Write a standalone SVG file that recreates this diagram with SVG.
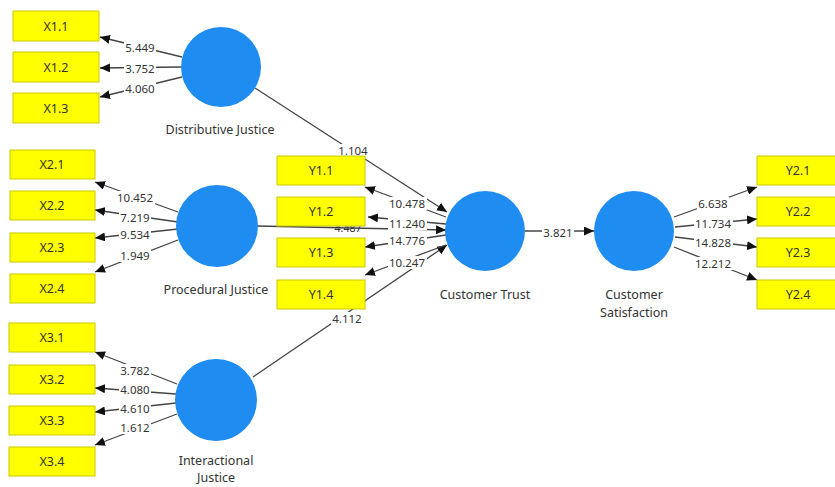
<svg xmlns="http://www.w3.org/2000/svg" width="835" height="487" viewBox="0 0 835 487">
<defs>
<marker id="ah" markerUnits="userSpaceOnUse" markerWidth="11" markerHeight="9" refX="10" refY="4.5" orient="auto">
<path d="M0,0 L10,4.5 L0,9 z" fill="#111"/>
</marker>
<style>
.box{fill:#ffff00;stroke:#c8c800;stroke-width:1}
.bt{font-family:"Noto Sans","Liberation Sans",sans-serif;font-size:12.5px;fill:#333;text-anchor:middle;dominant-baseline:central}
.lv{fill:#1e8cf0}
.lt{font-family:"Noto Sans","Liberation Sans",sans-serif;font-size:12.5px;fill:#333;text-anchor:middle}
.c{stroke:#444;stroke-width:1.3;fill:none;marker-end:url(#ah)}
.n{font-family:"Noto Sans","Liberation Sans",sans-serif;font-size:11.5px;fill:#333;text-anchor:middle;dominant-baseline:central}
.bg{fill:#fff}
</style>
</defs>
<rect width="835" height="487" fill="#fff"/>
<g id="connectors">
<line class="c" x1="182" y1="57" x2="100" y2="37"/>
<line class="c" x1="181" y1="67" x2="100" y2="68"/>
<line class="c" x1="182" y1="77" x2="100" y2="97"/>
<line class="c" x1="178" y1="212" x2="95" y2="182"/>
<line class="c" x1="178" y1="222" x2="95" y2="210"/>
<line class="c" x1="178" y1="229" x2="95" y2="238"/>
<line class="c" x1="178" y1="240" x2="95" y2="272"/>
<line class="c" x1="177" y1="384" x2="95" y2="352"/>
<line class="c" x1="176" y1="394" x2="95" y2="388"/>
<line class="c" x1="176" y1="403" x2="95" y2="412"/>
<line class="c" x1="177" y1="414" x2="95" y2="445"/>
<line class="c" x1="255" y1="88" x2="447" y2="212"/>
<line class="c" x1="257" y1="226" x2="446" y2="230"/>
<line class="c" x1="253" y1="377" x2="447" y2="245"/>
<line class="c" x1="446" y1="217" x2="365" y2="187"/>
<line class="c" x1="446" y1="224" x2="368" y2="217"/>
<line class="c" x1="446" y1="235" x2="365" y2="247"/>
<line class="c" x1="446" y1="245" x2="365" y2="275"/>
<line class="c" x1="525" y1="231" x2="594" y2="231"/>
<line class="c" x1="674" y1="217" x2="757" y2="187"/>
<line class="c" x1="675" y1="227" x2="757" y2="219"/>
<line class="c" x1="675" y1="237" x2="757" y2="247"/>
<line class="c" x1="674" y1="247" x2="757" y2="280"/>
<rect class="bg" x="124" y="41" width="32" height="13"/><text class="n" x="140" y="47">5.449</text>
<rect class="bg" x="124" y="62" width="32" height="13"/><text class="n" x="140" y="68">3.752</text>
<rect class="bg" x="124" y="82" width="32" height="13"/><text class="n" x="140" y="88">4.060</text>
<rect class="bg" x="116" y="191" width="39" height="13"/><text class="n" x="135" y="197">10.452</text>
<rect class="bg" x="119" y="211" width="32" height="13"/><text class="n" x="135" y="217">7.219</text>
<rect class="bg" x="119" y="228" width="32" height="13"/><text class="n" x="135" y="234">9.534</text>
<rect class="bg" x="119" y="249" width="32" height="13"/><text class="n" x="135" y="255">1.949</text>
<rect class="bg" x="119" y="364" width="32" height="13"/><text class="n" x="135" y="370">3.782</text>
<rect class="bg" x="119" y="383" width="32" height="13"/><text class="n" x="135" y="389">4.080</text>
<rect class="bg" x="119" y="402" width="32" height="13"/><text class="n" x="135" y="408">4.610</text>
<rect class="bg" x="119" y="421" width="32" height="13"/><text class="n" x="135" y="427">1.612</text>
<rect class="bg" x="337" y="144" width="32" height="13"/><text class="n" x="353" y="150">1.104</text>
<text class="n" x="348" y="228" style="font-size:10.5px">4.487</text>
<rect class="bg" x="331" y="312" width="32" height="13"/><text class="n" x="347" y="318">4.112</text>
<rect class="bg" x="388" y="197" width="39" height="13"/><text class="n" x="407" y="203">10.478</text>
<rect class="bg" x="388" y="217" width="39" height="13"/><text class="n" x="407" y="223">11.240</text>
<rect class="bg" x="388" y="234" width="39" height="13"/><text class="n" x="407" y="240">14.776</text>
<rect class="bg" x="388" y="256" width="39" height="13"/><text class="n" x="407" y="262">10.247</text>
<rect class="bg" x="542" y="226" width="32" height="13"/><text class="n" x="558" y="232">3.821</text>
<rect class="bg" x="697" y="197" width="32" height="13"/><text class="n" x="713" y="203">6.638</text>
<rect class="bg" x="694" y="217" width="39" height="13"/><text class="n" x="713" y="223">11.734</text>
<rect class="bg" x="694" y="236" width="39" height="13"/><text class="n" x="713" y="242">14.828</text>
<rect class="bg" x="694" y="257" width="39" height="13"/><text class="n" x="713" y="263">12.212</text>
</g>
<g id="X1.1"><rect class="box" x="13" y="11" width="86" height="30"/><text class="bt" x="56" y="26">X1.1</text></g>
<g id="X1.2"><rect class="box" x="13" y="52" width="86" height="30"/><text class="bt" x="56" y="67">X1.2</text></g>
<g id="X1.3"><rect class="box" x="13" y="93" width="86" height="30"/><text class="bt" x="56" y="108">X1.3</text></g>
<g id="X2.1"><rect class="box" x="10" y="150" width="85" height="29"/><text class="bt" x="52" y="164.5">X2.1</text></g>
<g id="X2.2"><rect class="box" x="10" y="191" width="85" height="29"/><text class="bt" x="52" y="205.5">X2.2</text></g>
<g id="X2.3"><rect class="box" x="10" y="233" width="85" height="29"/><text class="bt" x="52" y="247.5">X2.3</text></g>
<g id="X2.4"><rect class="box" x="10" y="274" width="85" height="29"/><text class="bt" x="52" y="288.5">X2.4</text></g>
<g id="X3.1"><rect class="box" x="9" y="323" width="86" height="29"/><text class="bt" x="52" y="337.5">X3.1</text></g>
<g id="X3.2"><rect class="box" x="9" y="365" width="86" height="29"/><text class="bt" x="52" y="379.5">X3.2</text></g>
<g id="X3.3"><rect class="box" x="9" y="406" width="86" height="29"/><text class="bt" x="52" y="420.5">X3.3</text></g>
<g id="X3.4"><rect class="box" x="9" y="447" width="86" height="29"/><text class="bt" x="52" y="461.5">X3.4</text></g>
<g id="Y1.1"><rect class="box" x="277" y="156" width="88" height="29"/><text class="bt" x="321" y="170.5">Y1.1</text></g>
<g id="Y1.2"><rect class="box" x="277" y="197" width="88" height="29"/><text class="bt" x="321" y="211.5">Y1.2</text></g>
<g id="Y1.3"><rect class="box" x="277" y="238" width="88" height="29"/><text class="bt" x="321" y="252.5">Y1.3</text></g>
<g id="Y1.4"><rect class="box" x="277" y="280" width="88" height="29"/><text class="bt" x="321" y="294.5">Y1.4</text></g>
<g id="Y2.1"><rect class="box" x="757" y="156" width="84" height="29"/><text class="bt" x="798" y="170.5">Y2.1</text></g>
<g id="Y2.2"><rect class="box" x="757" y="197" width="84" height="29"/><text class="bt" x="798" y="211.5">Y2.2</text></g>
<g id="Y2.3"><rect class="box" x="757" y="238" width="84" height="29"/><text class="bt" x="798" y="252.5">Y2.3</text></g>
<g id="Y2.4"><rect class="box" x="757" y="280" width="84" height="29"/><text class="bt" x="798" y="294.5">Y2.4</text></g>
<g id="DistributiveJustice"><circle class="lv" cx="221" cy="67" r="40"/><text class="lt" x="220" y="134">Distributive Justice</text></g>
<g id="ProceduralJustice"><circle class="lv" cx="217" cy="226" r="41"/><text class="lt" x="216" y="294">Procedural Justice</text></g>
<g id="InteractionalJustice"><circle class="lv" cx="216" cy="400" r="41"/><text class="lt" x="216" y="465">Interactional</text><text class="lt" x="216" y="482">Justice</text></g>
<g id="CustomerTrust"><circle class="lv" cx="485" cy="231" r="40"/><text class="lt" x="485" y="299">Customer Trust</text></g>
<g id="CustomerSatisfaction"><circle class="lv" cx="634" cy="231" r="40"/><text class="lt" x="634" y="299">Customer</text><text class="lt" x="634" y="317">Satisfaction</text></g>
</svg>
